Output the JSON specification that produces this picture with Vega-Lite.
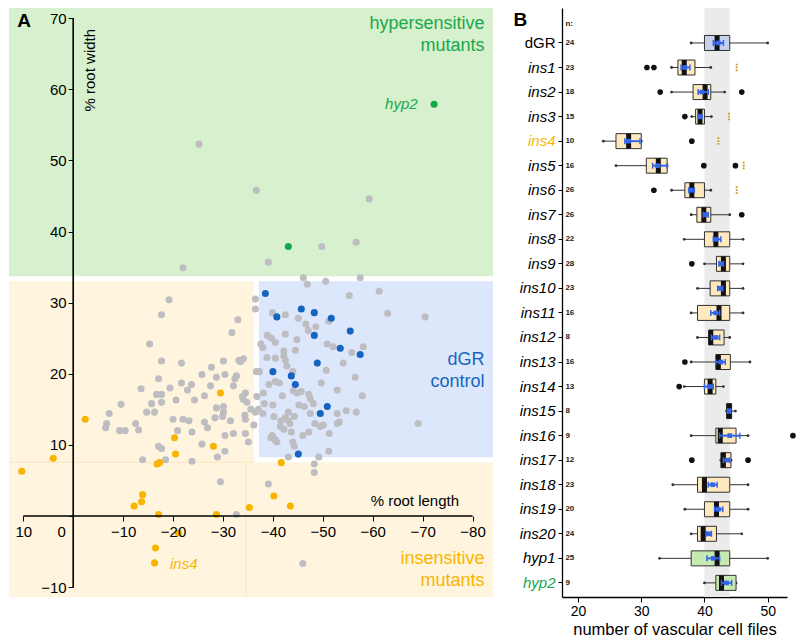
{
"$schema":"https://vega.github.io/schema/vega-lite/v6.json",
"padding":{"left":8,"top":8,"right":0,"bottom":0},
"bounds":"flush",
"spacing":69,
"config":{"view":{"stroke":null},"font":"Liberation Sans","axis":{"labelFont":"Liberation Sans","titleFont":"Liberation Sans","labelColor":"black","tickColor":"black","domainColor":"black","grid":false}},
"datasets":{
"one":[{}],
"pts":[
{"x":-25.2,"y":52.3,"g":"gray"},{"x":-36.7,"y":45.8,"g":"gray"},{"x":-59.3,"y":44.6,"g":"gray"},{"x":-49.8,"y":37.9,"g":"gray"},{"x":-56.7,"y":38.5,"g":"gray"},{"x":-39.1,"y":35.7,"g":"gray"},{"x":-22,"y":34.9,"g":"gray"},{"x":-46.1,"y":33.5,"g":"gray"},{"x":-46.9,"y":32.6,"g":"gray"},{"x":-50.6,"y":33.0,"g":"gray"},{"x":-57.5,"y":33.5,"g":"gray"},{"x":-61.3,"y":31.6,"g":"gray"},{"x":-55.3,"y":31.0,"g":"gray"},{"x":-19.2,"y":30.4,"g":"gray"},{"x":-36.5,"y":30.5,"g":"gray"},
{"x":-36.5,"y":29.1,"g":"gray"},{"x":-17.7,"y":28.3,"g":"gray"},{"x":-33,"y":27.6,"g":"gray"},{"x":-42.5,"y":28.3,"g":"gray"},{"x":-39.9,"y":28.6,"g":"gray"},{"x":-45.1,"y":27.8,"g":"gray"},{"x":-51.2,"y":27.4,"g":"gray"},{"x":-63,"y":28.5,"g":"gray"},{"x":-70.5,"y":28.0,"g":"gray"},{"x":-46.6,"y":27.0,"g":"gray"},{"x":-48.6,"y":26.6,"g":"gray"},{"x":-47.1,"y":26.1,"g":"gray"},{"x":-31.8,"y":25.8,"g":"gray"},{"x":-42.5,"y":25.6,"g":"gray"},{"x":-38.9,"y":25.4,"g":"gray"},{"x":-39.7,"y":25.0,"g":"gray"},{"x":-44.8,"y":24.8,"g":"gray"},{"x":-40.5,"y":24.4,"g":"gray"},{"x":-15.3,"y":24.2,"g":"gray"},{"x":-37.6,"y":24.2,"g":"gray"},{"x":-38,"y":23.7,"g":"gray"},{"x":-50.9,"y":24.2,"g":"gray"},{"x":-52.1,"y":23.8,"g":"gray"},{"x":-58.1,"y":23.8,"g":"gray"},{"x":-44.5,"y":23.3,"g":"gray"},{"x":-42.2,"y":23.2,"g":"gray"},{"x":-55.8,"y":23.0,"g":"gray"},{"x":-38.8,"y":22.3,"g":"gray"},{"x":-40.5,"y":22.2,"g":"gray"},{"x":-42.2,"y":22.5,"g":"gray"},{"x":-42.5,"y":21.9,"g":"gray"},{"x":-33.2,"y":21.9,"g":"gray"},{"x":-34.1,"y":22.1,"g":"gray"},{"x":-33.5,"y":21.7,"g":"gray"},{"x":-30.1,"y":21.8,"g":"gray"},{"x":-17.7,"y":21.8,"g":"gray"},{"x":-21.7,"y":21.5,"g":"gray"},{"x":-54.1,"y":21.5,"g":"gray"},{"x":-27.7,"y":20.9,"g":"gray"},{"x":-42.8,"y":21.1,"g":"gray"},{"x":-36.7,"y":20.3,"g":"gray"},{"x":-37.3,"y":20.3,"g":"gray"},{"x":-50.7,"y":20.5,"g":"gray"},{"x":-44,"y":20.3,"g":"gray"},{"x":-25.8,"y":19.9,"g":"gray"},{"x":-28.7,"y":19.5,"g":"gray"},{"x":-30.4,"y":19.9,"g":"gray"},{"x":-32.7,"y":19.7,"g":"gray"},{"x":-32.4,"y":19.3,"g":"gray"},{"x":-56.5,"y":19.5,"g":"gray"},{"x":-17.1,"y":19.3,"g":"gray"},{"x":-21.7,"y":18.7,"g":"gray"},{"x":-23.7,"y":18.5,"g":"gray"},{"x":-27.5,"y":18.3,"g":"gray"},{"x":-32.1,"y":18.3,"g":"gray"},{"x":-39.2,"y":18.5,"g":"gray"},{"x":-40.5,"y":18.9,"g":"gray"},{"x":-41.3,"y":18.7,"g":"gray"},{"x":-49.7,"y":18.7,"g":"gray"},{"x":-19.4,"y":18.0,"g":"gray"},{"x":-13.6,"y":17.9,"g":"gray"},{"x":-22.9,"y":17.7,"g":"gray"},{"x":-44.1,"y":17.6,"g":"gray"},{"x":-45.7,"y":17.5,"g":"gray"},{"x":-52.9,"y":17.7,"g":"gray"},{"x":-16.7,"y":17.1,"g":"gray"},{"x":-17.7,"y":17.1,"g":"gray"},{"x":-26.3,"y":16.9,"g":"gray"},{"x":-34.5,"y":17.3,"g":"gray"},{"x":-33.9,"y":16.8,"g":"gray"},{"x":-36.8,"y":16.8,"g":"gray"},{"x":-38.1,"y":17.3,"g":"gray"},{"x":-41.9,"y":16.9,"g":"gray"},{"x":-44.9,"y":17.3,"g":"gray"},{"x":-47.2,"y":17.1,"g":"gray"},{"x":-47.5,"y":16.5,"g":"gray"},{"x":-57.9,"y":16.9,"g":"gray"},{"x":-20.6,"y":16.3,"g":"gray"},{"x":-24.3,"y":16.3,"g":"gray"},{"x":-34.1,"y":16.4,"g":"gray"},{"x":-34.8,"y":16.0,"g":"gray"},{"x":-9.6,"y":15.7,"g":"gray"},{"x":-15.7,"y":15.8,"g":"gray"},{"x":-17.7,"y":16.0,"g":"gray"},{"x":-48.1,"y":15.8,"g":"gray"},{"x":-38.3,"y":15.8,"g":"gray"},{"x":-40,"y":15.6,"g":"gray"},{"x":-45.2,"y":15.6,"g":"gray"},{"x":-46.3,"y":15.4,"g":"gray"},{"x":-28.7,"y":15.2,"g":"gray"},{"x":-30.1,"y":15.4,"g":"gray"},{"x":-54.7,"y":14.8,"g":"gray"},{"x":-56.7,"y":14.6,"g":"gray"},{"x":-35.6,"y":15.0,"g":"gray"},{"x":-36.5,"y":14.6,"g":"gray"},{"x":-37.1,"y":15.0,"g":"gray"},{"x":-38,"y":14.4,"g":"gray"},{"x":-43.1,"y":14.6,"g":"gray"},{"x":-47.5,"y":14.4,"g":"gray"},{"x":-52.9,"y":14.4,"g":"gray"},{"x":-14.7,"y":14.6,"g":"gray"},{"x":-16.3,"y":14.6,"g":"gray"},{"x":-7.2,"y":14.4,"g":"gray"},{"x":-30.1,"y":14.6,"g":"gray"},{"x":-34.4,"y":14.2,"g":"gray"},{"x":-40.2,"y":14.0,"g":"gray"},{"x":-29.9,"y":14.0,"g":"gray"},{"x":-42.5,"y":13.8,"g":"gray"},{"x":-44.3,"y":14.0,"g":"gray"},{"x":-28.4,"y":13.8,"g":"gray"},{"x":-20,"y":13.6,"g":"gray"},{"x":-22,"y":13.6,"g":"gray"},{"x":-23.2,"y":13.4,"g":"gray"},{"x":-34.5,"y":13.6,"g":"gray"},{"x":-31.5,"y":13.4,"g":"gray"},{"x":-41.6,"y":13.4,"g":"gray"},{"x":-43.1,"y":13.4,"g":"gray"},{"x":-43.4,"y":13.0,"g":"gray"},{"x":-26.3,"y":13.2,"g":"gray"},{"x":-48.4,"y":13.0,"g":"gray"},{"x":-52.9,"y":13.0,"g":"gray"},{"x":-53.3,"y":13.2,"g":"gray"},{"x":-69.1,"y":13.0,"g":"gray"},{"x":-6.7,"y":13.0,"g":"gray"},{"x":-12.5,"y":13.0,"g":"gray"},{"x":-6.5,"y":12.4,"g":"gray"},{"x":-36.2,"y":12.8,"g":"gray"},{"x":-41.5,"y":12.6,"g":"gray"},{"x":-49.5,"y":12.6,"g":"gray"},{"x":-50.1,"y":12.8,"g":"gray"},{"x":-42.2,"y":12.2,"g":"gray"},{"x":-26.9,"y":12.4,"g":"gray"},{"x":-13.1,"y":12.1,"g":"gray"},{"x":-9.3,"y":12.0,"g":"gray"},{"x":-10.4,"y":12.0,"g":"gray"},{"x":-20.9,"y":12.0,"g":"gray"},{"x":-23.8,"y":11.8,"g":"gray"},{"x":-43.7,"y":11.8,"g":"gray"},{"x":-47.2,"y":11.8,"g":"gray"},{"x":-51.3,"y":11.6,"g":"gray"},{"x":-32.1,"y":11.6,"g":"gray"},{"x":-34.5,"y":11.6,"g":"gray"},{"x":-30.4,"y":11.3,"g":"gray"},{"x":-39.9,"y":11.3,"g":"gray"},{"x":-46,"y":11.3,"g":"gray"},{"x":-39.6,"y":11.0,"g":"gray"},{"x":-40.5,"y":10.7,"g":"gray"},{"x":-40.8,"y":10.4,"g":"gray"},{"x":-44,"y":10.4,"g":"gray"},{"x":-35.1,"y":10.4,"g":"gray"},{"x":-25.8,"y":10.1,"g":"gray"},{"x":-44.3,"y":9.8,"g":"gray"},{"x":-17.1,"y":9.8,"g":"gray"},{"x":-17.7,"y":9.5,"g":"gray"},{"x":-30.4,"y":9.1,"g":"gray"},{"x":-51.2,"y":9.1,"g":"gray"},{"x":-43.1,"y":8.3,"g":"gray"},{"x":-49.2,"y":8.3,"g":"gray"},{"x":-28.9,"y":8.3,"g":"gray"},{"x":-13.9,"y":7.9,"g":"gray"},{"x":-18.5,"y":7.9,"g":"gray"},{"x":-23.8,"y":7.7,"g":"gray"},{"x":-48.3,"y":7.3,"g":"gray"},{"x":-48.3,"y":6.1,"g":"gray"},{"x":-29.5,"y":4.8,"g":"gray"},{"x":-39.1,"y":4.5,"g":"gray"},{"x":-32.7,"y":0.2,"g":"gray"},{"x":-46,"y":-6.7,"g":"gray"},
{"x":-38.5,"y":31.3,"g":"blue"},{"x":-45.7,"y":29.1,"g":"blue"},{"x":-48.3,"y":28.6,"g":"blue"},{"x":-40.8,"y":28.0,"g":"blue"},{"x":-51.7,"y":27.8,"g":"blue"},{"x":-55.5,"y":26.0,"g":"blue"},{"x":-48.3,"y":25.4,"g":"blue"},{"x":-53.5,"y":23.6,"g":"blue"},{"x":-57.5,"y":22.7,"g":"blue"},{"x":-48.9,"y":21.5,"g":"blue"},{"x":-40,"y":20.3,"g":"blue"},{"x":-43.7,"y":19.7,"g":"blue"},{"x":-44.5,"y":18.5,"g":"blue"},{"x":-50.9,"y":15.4,"g":"blue"},{"x":-49.5,"y":14.4,"g":"blue"},{"x":-45.1,"y":8.7,"g":"blue"},
{"x":-29.5,"y":17.3,"g":"orange"},{"x":-2.4,"y":13.6,"g":"orange"},{"x":-20.3,"y":11.0,"g":"orange"},{"x":-28.1,"y":9.8,"g":"orange"},{"x":-20.5,"y":8.7,"g":"orange"},{"x":4.0,"y":8.1,"g":"orange"},{"x":-41.7,"y":7.5,"g":"orange"},{"x":-16.8,"y":7.3,"g":"orange"},{"x":-17.3,"y":7.5,"g":"orange"},{"x":10.3,"y":6.3,"g":"orange"},{"x":-13.9,"y":3.0,"g":"orange"},{"x":-40.2,"y":2.8,"g":"orange"},{"x":-13.7,"y":2.0,"g":"orange"},{"x":-12.2,"y":1.4,"g":"orange"},{"x":-35.3,"y":1.2,"g":"orange"},{"x":-43.5,"y":1.4,"g":"orange"},{"x":-17.1,"y":0.2,"g":"orange"},{"x":-28.7,"y":0.2,"g":"orange"},{"x":-21.1,"y":-2.4,"g":"orange"},{"x":-16.5,"y":-4.5,"g":"orange"},{"x":-16.3,"y":-6.6,"g":"orange"},
{"x":-72.3,"y":57.9,"g":"green"},{"x":-43.1,"y":37.9,"g":"green"}
],
"bp":[
{"name":"dGR","grp":"dGR","n":24,"wlo":37.9,"q1":40.0,"med":42.0,"q3":44.0,"whi":50.0,"mean":42.2,"clo":41.4,"chi":43.0},
{"name":"ins1","grp":"ins","n":23,"wlo":34.8,"q1":35.8,"med":36.8,"q3":38.5,"whi":41.0,"mean":36.9,"clo":36.3,"chi":37.7},
{"name":"ins2","grp":"ins","n":18,"wlo":34.8,"q1":38.2,"med":40.1,"q3":41.0,"whi":43.2,"mean":39.6,"clo":39.0,"chi":40.6},
{"name":"ins3","grp":"ins","n":15,"wlo":38.0,"q1":38.6,"med":39.3,"q3":40.0,"whi":41.1,"mean":39.3,"clo":39.0,"chi":39.6},
{"name":"ins4","grp":"ins","n":10,"wlo":24.0,"q1":26.0,"med":28.0,"q3":30.0,"whi":30.0,"mean":28.0,"clo":27.4,"chi":29.8},
{"name":"ins5","grp":"ins","n":16,"wlo":26.0,"q1":30.8,"med":32.7,"q3":34.1,"whi":34.1,"mean":32.6,"clo":31.8,"chi":34.1},
{"name":"ins6","grp":"ins","n":26,"wlo":34.8,"q1":36.9,"med":38.0,"q3":40.0,"whi":41.0,"mean":37.9,"clo":37.5,"chi":38.4},
{"name":"ins7","grp":"ins","n":26,"wlo":37.9,"q1":38.8,"med":39.9,"q3":41.0,"whi":44.0,"mean":40.2,"clo":39.8,"chi":40.6},
{"name":"ins8","grp":"ins","n":22,"wlo":36.8,"q1":40.0,"med":41.8,"q3":44.0,"whi":46.1,"mean":41.9,"clo":41.4,"chi":42.6},
{"name":"ins9","grp":"ins","n":28,"wlo":40.0,"q1":41.9,"med":43.0,"q3":44.0,"whi":46.1,"mean":42.6,"clo":42.3,"chi":43.0},
{"name":"ins10","grp":"ins","n":23,"wlo":38.9,"q1":40.9,"med":43.0,"q3":44.0,"whi":46.1,"mean":42.4,"clo":42.1,"chi":42.9},
{"name":"ins11","grp":"ins","n":16,"wlo":37.9,"q1":38.9,"med":42.3,"q3":44.0,"whi":46.1,"mean":41.8,"clo":41.0,"chi":42.4},
{"name":"ins12","grp":"ins","n":8,"wlo":38.9,"q1":40.7,"med":41.0,"q3":43.1,"whi":44.0,"mean":41.8,"clo":41.1,"chi":42.4},
{"name":"ins13","grp":"ins","n":16,"wlo":37.9,"q1":41.8,"med":42.2,"q3":44.1,"whi":47.2,"mean":42.6,"clo":41.8,"chi":43.3},
{"name":"ins14","grp":"ins","n":13,"wlo":36.8,"q1":40.0,"med":40.9,"q3":41.8,"whi":43.0,"mean":40.8,"clo":40.0,"chi":41.4},
{"name":"ins15","grp":"ins","n":8,"wlo":43.5,"q1":43.5,"med":43.9,"q3":44.3,"whi":44.9,"mean":43.9,"clo":43.7,"chi":44.1},
{"name":"ins16","grp":"ins","n":9,"wlo":37.9,"q1":41.8,"med":42.5,"q3":45.0,"whi":46.9,"mean":44.0,"clo":42.4,"chi":45.6},
{"name":"ins17","grp":"ins","n":12,"wlo":42.6,"q1":42.6,"med":43.0,"q3":44.2,"whi":44.2,"mean":43.6,"clo":43.0,"chi":44.0},
{"name":"ins18","grp":"ins","n":23,"wlo":35.0,"q1":38.9,"med":40.0,"q3":44.0,"whi":46.9,"mean":41.3,"clo":40.6,"chi":42.0},
{"name":"ins19","grp":"ins","n":20,"wlo":36.9,"q1":40.0,"med":41.9,"q3":44.0,"whi":46.9,"mean":42.2,"clo":41.6,"chi":42.9},
{"name":"ins20","grp":"ins","n":24,"wlo":37.9,"q1":38.9,"med":39.8,"q3":41.9,"whi":45.9,"mean":40.7,"clo":40.3,"chi":41.1},
{"name":"hyp1","grp":"hyp","n":25,"wlo":32.9,"q1":37.9,"med":42.0,"q3":44.0,"whi":50.0,"mean":41.4,"clo":40.4,"chi":42.4},
{"name":"hyp2","grp":"hyp","n":9,"wlo":40.0,"q1":41.8,"med":42.7,"q3":45.0,"whi":45.0,"mean":43.5,"clo":42.7,"chi":44.3}
],
"out":[
{"name":"ins1","v":30.9},{"name":"ins1","v":32.0},{"name":"ins2","v":33.0},{"name":"ins2","v":45.9},{"name":"ins3","v":36.9},{"name":"ins4","v":38.0},{"name":"ins5","v":39.9},{"name":"ins5","v":44.9},{"name":"ins6","v":32.0},{"name":"ins7","v":45.9},{"name":"ins9","v":38.0},{"name":"ins13","v":36.9},{"name":"ins14","v":36.0},{"name":"ins16","v":54.0},{"name":"ins17","v":38.0},{"name":"ins17","v":46.9}
],
"odd":[
{"name":"ins1","v":45.1},{"name":"ins3","v":43.9},{"name":"ins4","v":42.2},{"name":"ins5","v":46.2},{"name":"ins6","v":45.1}
]
},
"hconcat":[
{
"width":484,"height":589,
"data":{"name":"one"},
"layer":[
{"mark":{"type":"rect","color":"#d7f0cd"},"encoding":{"x":{"datum":-84.1,"type":"quantitative"},"x2":{"datum":12.86},"y":{"datum":33.73,"type":"quantitative"},"y2":{"datum":71.45}}},
{"mark":{"type":"rect","color":"#fff4de"},"encoding":{"x":{"datum":-36.2,"type":"quantitative"},"x2":{"datum":12.86},"y":{"datum":7.55,"type":"quantitative"},"y2":{"datum":33.0}}},
{"mark":{"type":"rect","color":"#dde7fb"},"encoding":{"x":{"datum":-84.1,"type":"quantitative"},"x2":{"datum":-37.2},"y":{"datum":8.26,"type":"quantitative"},"y2":{"datum":33.0}}},
{"mark":{"type":"rect","color":"#fff4de"},"encoding":{"x":{"datum":-84.1,"type":"quantitative"},"x2":{"datum":12.86},"y":{"datum":-11.4,"type":"quantitative"},"y2":{"datum":7.55}}},
{"mark":{"type":"rule","color":"#fbe6c2","strokeWidth":1},"encoding":{"x":{"datum":12.86,"type":"quantitative"},"x2":{"datum":-36.2},"y":{"datum":7.55,"type":"quantitative"}}},
{"mark":{"type":"rule","color":"#fbe6c2","strokeWidth":1},"encoding":{"x":{"datum":-34.6,"type":"quantitative"},"y":{"datum":-11.4,"type":"quantitative"},"y2":{"datum":7.55}}},
{"data":{"name":"pts"},"mark":{"type":"circle","size":50,"opacity":1},
"encoding":{
"x":{"field":"x","type":"quantitative","scale":{"domain":[-84.1,12.86],"reverse":true,"nice":false,"zero":false},
"axis":{"title":null,"zindex":1,"values":[10,0,-10,-20,-30,-40,-50,-60,-70,-80],"offset":-81,"domain":false,"grid":false,"tickSize":5,"tickWidth":1,"labelFontSize":15,"labelPadding":3,"labelOverlap":false,"labelFlush":false,"labelBound":false,"labelOffset":{"condition":{"test":"datum.value===0","value":-12},"value":0}}},
"y":{"field":"y","type":"quantitative","scale":{"domain":[-11.4,71.45],"nice":false,"zero":false},
"axis":{"title":null,"zindex":1,"values":[70,60,50,40,30,20,10,0,-10],"offset":-64.2,"domain":false,"grid":false,"tickSize":5,"tickWidth":1,"labelFontSize":15,"labelPadding":2,"labelOverlap":false,"labelFlush":false,"labelBound":false,"labelExpr":"datum.value===0?'':datum.label"}},
"color":{"field":"g","type":"nominal","legend":null,"scale":{"domain":["gray","blue","orange","green"],"range":["#bebec2","#1565c0","#f8b500","#13a84b"]}}
}},
{"mark":{"type":"rule","color":"black","strokeWidth":1.6},"encoding":{"x":{"datum":10,"type":"quantitative"},"x2":{"datum":-80},"y":{"datum":0,"type":"quantitative"}}},
{"mark":{"type":"rule","color":"black","strokeWidth":1.6},"encoding":{"x":{"datum":0,"type":"quantitative"},"y":{"datum":70,"type":"quantitative"},"y2":{"datum":-10}}},
{"mark":{"type":"text","text":"A","fontSize":19,"fontWeight":"bold","align":"center","baseline":"middle","color":"black"},"encoding":{"x":{"datum":9.85,"type":"quantitative"},"y":{"datum":69.6,"type":"quantitative"}}},
{"mark":{"type":"text","text":"% root width","fontSize":15,"angle":270,"align":"center","baseline":"middle","color":"black"},"encoding":{"x":{"datum":-3.4,"type":"quantitative"},"y":{"datum":62.7,"type":"quantitative"}}},
{"mark":{"type":"text","text":"% root length","fontSize":15,"align":"right","baseline":"middle","color":"black"},"encoding":{"x":{"datum":-77.3,"type":"quantitative"},"y":{"datum":2.1,"type":"quantitative"}}},
{"mark":{"type":"text","text":["hypersensitive","mutants"],"lineHeight":22,"fontSize":18,"align":"right","baseline":"middle","color":"#17a84b"},"encoding":{"x":{"datum":-82.4,"type":"quantitative"},"y":{"datum":69.2,"type":"quantitative"}}},
{"mark":{"type":"text","text":["dGR","control"],"lineHeight":22,"fontSize":18,"align":"right","baseline":"middle","color":"#1565c0"},"encoding":{"x":{"datum":-82.4,"type":"quantitative"},"y":{"datum":22.0,"type":"quantitative"}}},
{"mark":{"type":"text","text":["insensitive","mutants"],"lineHeight":22,"fontSize":18,"align":"right","baseline":"middle","color":"#f8b500"},"encoding":{"x":{"datum":-82.4,"type":"quantitative"},"y":{"datum":-6.0,"type":"quantitative"}}},
{"mark":{"type":"text","text":"hyp2","fontSize":15,"fontStyle":"italic","align":"right","baseline":"middle","color":"#17a84b"},"encoding":{"x":{"datum":-69.0,"type":"quantitative"},"y":{"datum":57.9,"type":"quantitative"}}},
{"mark":{"type":"text","text":"ins4","fontSize":15,"fontStyle":"italic","align":"left","baseline":"middle","color":"#f8b500"},"encoding":{"x":{"datum":-19.4,"type":"quantitative"},"y":{"datum":-6.7,"type":"quantitative"}}}
]
},
{
"width":225,"height":589,
"data":{"name":"bp"},
"layer":[
{"data":{"name":"one"},"mark":{"type":"rect","color":"#ebebeb"},"encoding":{"x":{"datum":40,"type":"quantitative"},"x2":{"datum":44}}},
{"mark":{"type":"rule","color":"#333","strokeWidth":1},
"encoding":{
"x":{"field":"wlo","type":"quantitative","scale":{"domain":[17.46,53.06],"nice":false,"zero":false},
"axis":{"title":"number of vascular cell files","values":[20,30,40,50],"titleFontSize":16.5,"titleFontWeight":"normal","titleColor":"black","titlePadding":3,"labelFontSize":14,"labelPadding":2,"tickSize":5,"domainWidth":1.3,"labelFlush":false}},
"x2":{"field":"whi"},
"y":{"field":"name","type":"nominal","sort":null,
"scale":{"type":"band","domain":["dGR","ins1","ins2","ins3","ins4","ins5","ins6","ins7","ins8","ins9","ins10","ins11","ins12","ins13","ins14","ins15","ins16","ins17","ins18","ins19","ins20","hyp1","hyp2"],"paddingInner":0,"paddingOuter":0.5,"align":0.925},
"axis":{"title":null,"domainWidth":1.3,"tickSize":4,"labelFontSize":15,"labelPadding":3,
"labelFontStyle":{"condition":{"test":"datum.value==='dGR'","value":"normal"},"value":"italic"},
"labelColor":{"condition":[{"test":"datum.value==='ins4'","value":"#f8b500"},{"test":"datum.value==='hyp2'","value":"#17a84b"}],"value":"black"}}}
}},
{"mark":{"type":"point","filled":true,"size":8,"color":"#333","opacity":1},"encoding":{"x":{"field":"wlo","type":"quantitative"},"y":{"field":"name","type":"nominal"}}},
{"mark":{"type":"point","filled":true,"size":8,"color":"#333","opacity":1},"encoding":{"x":{"field":"whi","type":"quantitative"},"y":{"field":"name","type":"nominal"}}},
{"mark":{"type":"bar","size":15,"stroke":"#333","strokeWidth":1},
"encoding":{"x":{"field":"q1","type":"quantitative"},"x2":{"field":"q3"},"y":{"field":"name","type":"nominal"},
"fill":{"field":"grp","type":"nominal","legend":null,"scale":{"domain":["dGR","ins","hyp"],"range":["#c6d1ec","#fde9bd","#c6e9b2"]}}}},
{"mark":{"type":"tick","thickness":5,"size":15,"color":"#111","opacity":1},"encoding":{"x":{"field":"med","type":"quantitative"},"y":{"field":"name","type":"nominal"}}},
{"mark":{"type":"rule","color":"#3566e8","strokeWidth":2},"encoding":{"x":{"field":"clo","type":"quantitative"},"x2":{"field":"chi"},"y":{"field":"name","type":"nominal"}}},
{"mark":{"type":"tick","thickness":1.5,"size":6,"color":"#3566e8","opacity":1},"encoding":{"x":{"field":"clo","type":"quantitative"},"y":{"field":"name","type":"nominal"}}},
{"mark":{"type":"tick","thickness":1.5,"size":6,"color":"#3566e8","opacity":1},"encoding":{"x":{"field":"chi","type":"quantitative"},"y":{"field":"name","type":"nominal"}}},
{"mark":{"type":"square","size":22,"color":"#3566e8","opacity":1},"encoding":{"x":{"field":"mean","type":"quantitative"},"y":{"field":"name","type":"nominal"}}},
{"data":{"name":"out"},"mark":{"type":"circle","size":32,"color":"#111","opacity":1},"encoding":{"x":{"field":"v","type":"quantitative"},"y":{"field":"name","type":"nominal"}}},
{"data":{"name":"odd"},"mark":{"type":"point","filled":true,"size":60,"color":"#d09a2a","opacity":1,"shape":"M-0.25,-1H0.25V-0.55H-0.25Z M-0.25,-0.25H0.25V0.2H-0.25Z M-0.25,0.5H0.25V0.95H-0.25Z"},"encoding":{"x":{"field":"v","type":"quantitative"},"y":{"field":"name","type":"nominal"}}},
{"mark":{"type":"text","fontSize":8,"fontWeight":"bold","align":"left","baseline":"middle","color":"#222"},"encoding":{"x":{"datum":18.0,"type":"quantitative"},"y":{"field":"name","type":"nominal"},"text":{"field":"n"}}},
{"data":{"name":"one"},"mark":{"type":"text","text":"n:","fontSize":8,"fontWeight":"bold","align":"left","baseline":"middle","color":"#222","dy":-19},"encoding":{"x":{"datum":18.0,"type":"quantitative"},"y":{"datum":"dGR","type":"nominal"}}},
{"data":{"name":"one"},"mark":{"type":"text","text":"B","fontSize":19,"fontWeight":"bold","align":"center","baseline":"middle","color":"black","dy":-23},"encoding":{"x":{"datum":10.86,"type":"quantitative"},"y":{"datum":"dGR","type":"nominal"}}}
]
}
]
}
